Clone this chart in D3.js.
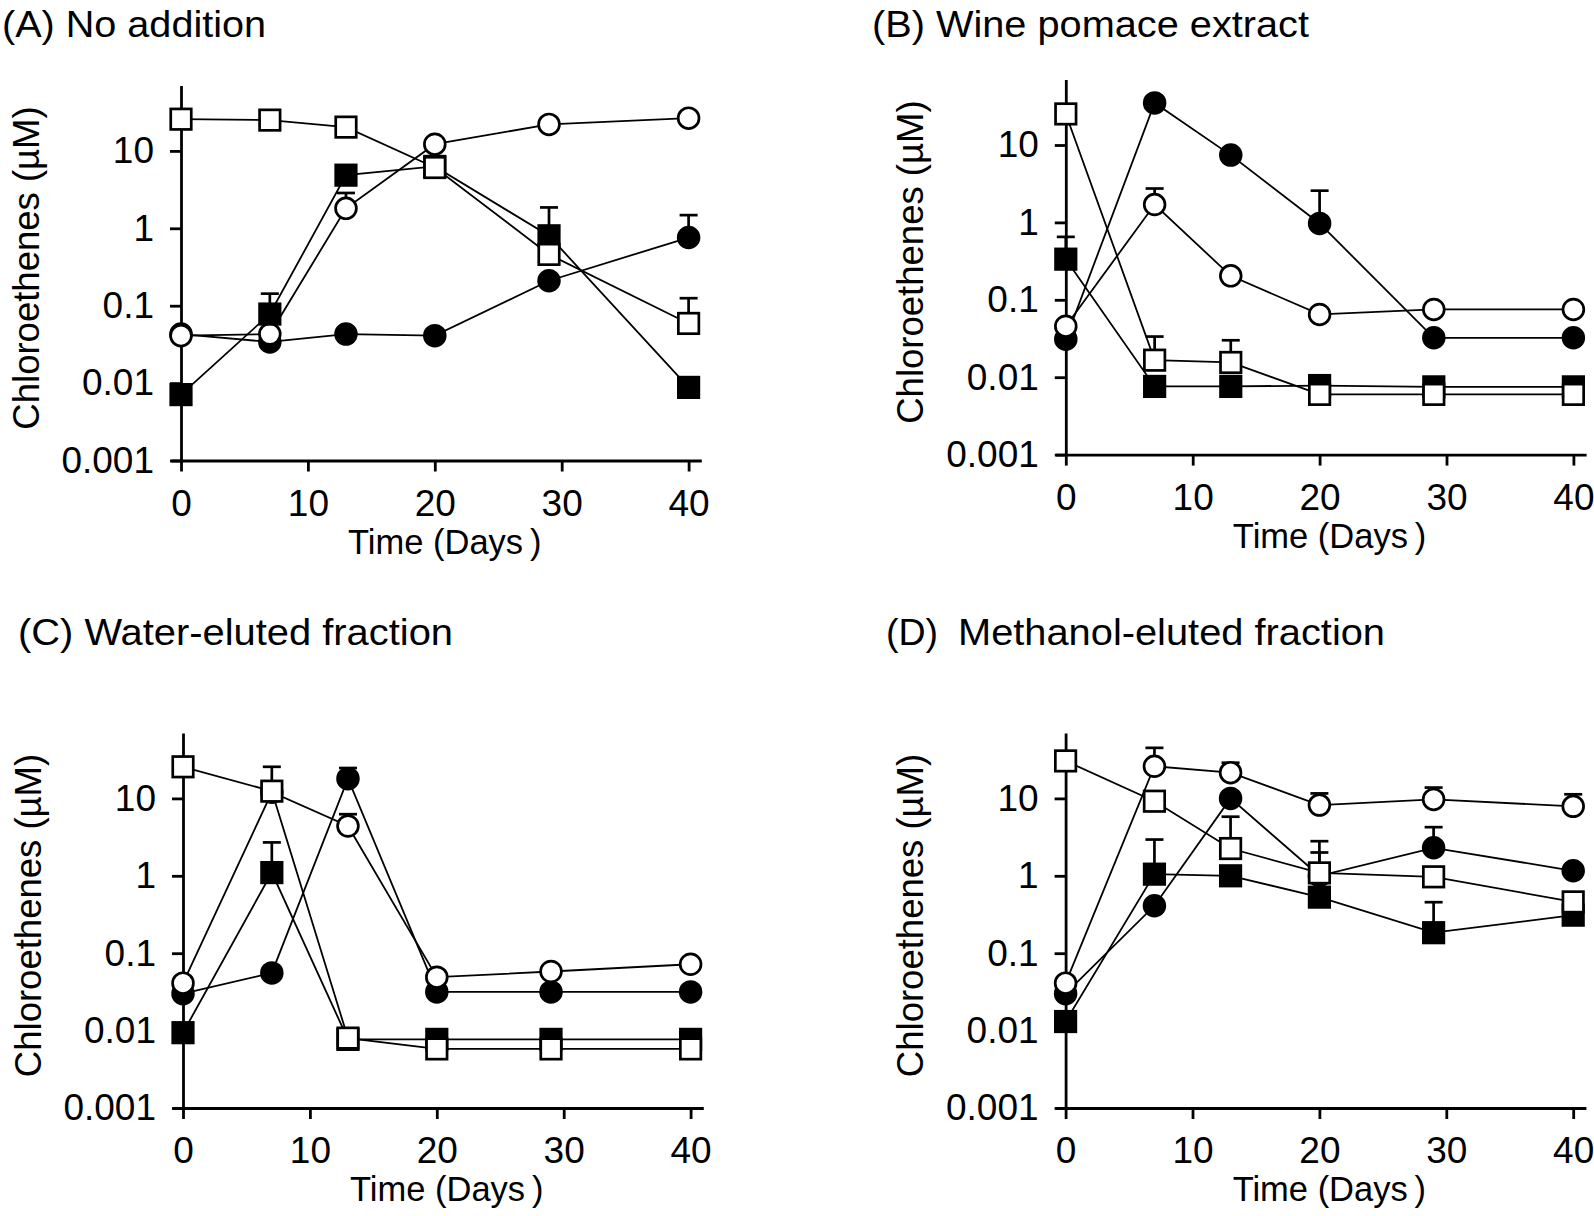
<!DOCTYPE html>
<html><head><meta charset="utf-8">
<script src="https://cdn.jsdelivr.net/npm/d3@7"></script>
<style>body{margin:0;background:#fff}svg{display:block}</style></head>
<body><svg id="c" width="1594" height="1216"></svg>
<script>
// ---------- data ----------
const days = [0, 7, 13, 20, 29, 40];
const xTicks = [0, 10, 20, 30, 40];
const yTicks = [0.001, 0.01, 0.1, 1, 10];
const yTickLabels = ["0.001", "0.01", "0.1", "1", "10"];
const titles = ["(A) No addition", "(B) Wine pomace extract", "(C) Water-eluted fraction", "Methanol-eluted fraction"];
const titlePrefixD = "(D)";
const yLabel = "Chloroethenes (\u00b5M)";
const xLabel = "Time (Days\u2009)";

// (A) No addition  — values and upper error-bar ends (null = none)
const A_VC   = [0.043, 0.034, 0.043, 0.041, 0.21, 0.76];
const A_VC_err   = [null, null, null, null, null, 1.48];
const A_DCE  = [0.041, 0.043, 1.81, 12.2, 22, 26.5];
const A_DCE_err  = [null, null, 2.86, null, null, null];
const A_TCE  = [0.0071, 0.078, 4.86, 6.3, 0.8, 0.0088];
const A_TCE_err  = [null, 0.143, null, null, 1.86, null];
const A_PCE  = [25.7, 25, 20.3, 6.1, 0.46, 0.059];
const A_PCE_err  = [null, null, null, null, null, 0.125];

// (B) Wine pomace extract
const B_VC   = [0.031, 35, 7.4, 0.97, 0.0323, 0.0323];
const B_VC_err   = [null, null, null, 2.57, null, null];
const B_DCE  = [0.0456, 1.7, 0.204, 0.0647, 0.075, 0.075];
const B_DCE_err  = [null, 2.74, null, null, null, null];
const B_TCE  = [0.335, 0.0076, 0.0076, 0.0078, 0.0075, 0.0075];
const B_TCE_err  = [0.65, null, null, null, null, null];
const B_PCE  = [25.2, 0.0166, 0.0155, 0.006, 0.006, 0.006];
const B_PCE_err  = [null, 0.0335, 0.030, null, null, null];

// (C) Water-eluted fraction
const C_VC   = [0.030, 0.0556, 18, 0.0316, 0.0316, 0.0316];
const C_VC_err   = [null, null, 24.7, null, null, null];
const C_DCE  = [0.041, 12, 4.4, 0.049, 0.058, 0.072];
const C_DCE_err  = [null, null, 6.25, null, null, null];
const C_TCE  = [0.0094, 1.1, 0.0077, 0.0077, 0.0077, 0.0077];
const C_TCE_err  = [null, 2.7, null, null, null, null];
const C_PCE  = [25.6, 12.4, 0.008, 0.0058, 0.0058, 0.0058];
const C_PCE_err  = [null, 25.6, null, null, null, null];

// (D) Methanol-eluted fraction
const D_VC   = [0.030, 0.41, 10, 1.0, 2.3, 1.16];
const D_VC_err   = [null, null, null, 2.0, 4.25, null];
const D_DCE  = [0.041, 26, 21.5, 8.2, 9.7, 7.9];
const D_DCE_err  = [null, 45, 28.9, 11.6, 13.8, 11.3];
const D_TCE  = [0.0131, 1.05, 1.0, 0.53, 0.184, 0.31];
const D_TCE_err  = [null, 2.94, null, null, 0.456, null];
const D_PCE  = [30.5, 9.2, 2.25, 1.09, 0.97, 0.46];
const D_PCE_err  = [null, null, 5.8, 2.8, null, null];

// ---------- layout ----------
const PPD = 12.69;        // px per day
const DEC = 77.4;         // px per decade
const xDomain = [-0.8, 41];
const yDomain = [0.001, 70];
const FONT = "'Liberation Sans', Arial, sans-serif";

const panels = [
  {ox: 181,    oy: 460.5, tx: 2,   ty: 37,  tw: 264,
   series: [[A_VC, A_VC_err, "fc"], [A_DCE, A_DCE_err, "oc"], [A_TCE, A_TCE_err, "fs"], [A_PCE, A_PCE_err, "os"]]},
  {ox: 1065.8, oy: 454.6, tx: 872, ty: 37,  tw: 437,
   series: [[B_VC, B_VC_err, "fc"], [B_DCE, B_DCE_err, "oc"], [B_TCE, B_TCE_err, "fs"], [B_PCE, B_PCE_err, "os"]]},
  {ox: 183,    oy: 1108,  tx: 18,  ty: 645, tw: 435,
   series: [[C_VC, C_VC_err, "fc"], [C_DCE, C_DCE_err, "oc"], [C_TCE, C_TCE_err, "fs"], [C_PCE, C_PCE_err, "os"]]},
  {ox: 1065.6, oy: 1108,  tx: 958, ty: 645, tw: 427, px: 886,
   series: [[D_VC, D_VC_err, "fc"], [D_DCE, D_DCE_err, "oc"], [D_TCE, D_TCE_err, "fs"], [D_PCE, D_PCE_err, "os"]]}
];

const svg = d3.select("#c");
svg.append("rect").attr("width", 1594).attr("height", 1216).attr("fill", "#fff");

panels.forEach((p, i) => {
  const x = d3.scaleLinear().domain(xDomain)
    .range([p.ox + xDomain[0] * PPD, p.ox + xDomain[1] * PPD]);
  const y = d3.scaleLog().domain(yDomain)
    .range([p.oy, p.oy - Math.log10(yDomain[1] / yDomain[0]) * DEC]);

  const g = svg.append("g");

  // title
  if (i === 3) {
    g.append("text").attr("x", p.px).attr("y", p.ty).text(titlePrefixD)
      .attr("font-family", FONT).attr("font-size", 37.5);
  }
  g.append("text").attr("x", p.tx).attr("y", p.ty).text(titles[i])
    .attr("font-family", FONT).attr("font-size", 37.5)
    .attr("textLength", p.tw).attr("lengthAdjust", "spacingAndGlyphs");

  // axes
  const xa = g.append("g").attr("transform", `translate(0,${y(0.001)})`)
    .call(d3.axisBottom(x).tickValues(xTicks).tickFormat(d3.format("d"))
      .tickSizeInner(11).tickSizeOuter(0).tickPadding(18));
  const ya = g.append("g").attr("transform", `translate(${x(0)},0)`)
    .call(d3.axisLeft(y).tickValues(yTicks).tickFormat((d, k) => yTickLabels[k])
      .tickSizeInner(11).tickSizeOuter(0).tickPadding(16));
  [xa, ya].forEach(a => {
    a.select(".domain").attr("stroke", "#000").attr("stroke-width", 2.8);
    a.selectAll(".tick line").attr("stroke", "#000").attr("stroke-width", 2.8);
    a.selectAll(".tick text").attr("font-family", FONT).attr("font-size", 37).attr("fill", "#000");
  });

  // axis titles
  const [yb, yt] = y.range();
  g.append("text")
    .attr("transform", `translate(${x(0) - 142.5},${(yb + yt) / 2 - 5}) rotate(-90)`)
    .attr("text-anchor", "middle").attr("font-family", FONT).attr("font-size", 36.5)
    .text(yLabel);
  g.append("text")
    .attr("x", x(20) + 10).attr("y", y(0.001) + 93)
    .attr("text-anchor", "middle").attr("font-family", FONT).attr("font-size", 34.5)
    .text(xLabel);

  // series
  const line = d3.line().x((d, k) => x(days[k])).y(d => y(d));
  p.series.forEach(([vals, errs, kind]) => {
    const sg = g.append("g");
    // error bars (upper only)
    errs.forEach((e, k) => {
      if (e == null) return;
      const cx = x(days[k]);
      sg.append("line").attr("x1", cx).attr("x2", cx).attr("y1", y(vals[k])).attr("y2", y(e))
        .attr("stroke", "#000").attr("stroke-width", 2.7);
      sg.append("line").attr("x1", cx - 9).attr("x2", cx + 9).attr("y1", y(e)).attr("y2", y(e))
        .attr("stroke", "#000").attr("stroke-width", 2.7);
    });
    sg.append("path").attr("d", line(vals)).attr("fill", "none")
      .attr("stroke", "#000").attr("stroke-width", 1.8);
    const fill = (kind[0] === "f") ? "#000" : "#fff";
    if (kind[1] === "c") {
      sg.selectAll("circle").data(vals).join("circle")
        .attr("cx", (d, k) => x(days[k])).attr("cy", d => y(d)).attr("r", 10.4)
        .attr("fill", fill).attr("stroke", "#000").attr("stroke-width", 2.7);
    } else {
      const s = 20.5;
      sg.selectAll("rect").data(vals).join("rect")
        .attr("x", (d, k) => x(days[k]) - s / 2).attr("y", d => y(d) - s / 2)
        .attr("width", s).attr("height", s)
        .attr("fill", fill).attr("stroke", "#000").attr("stroke-width", 2.7);
    }
  });
});
</script>
</body></html>
